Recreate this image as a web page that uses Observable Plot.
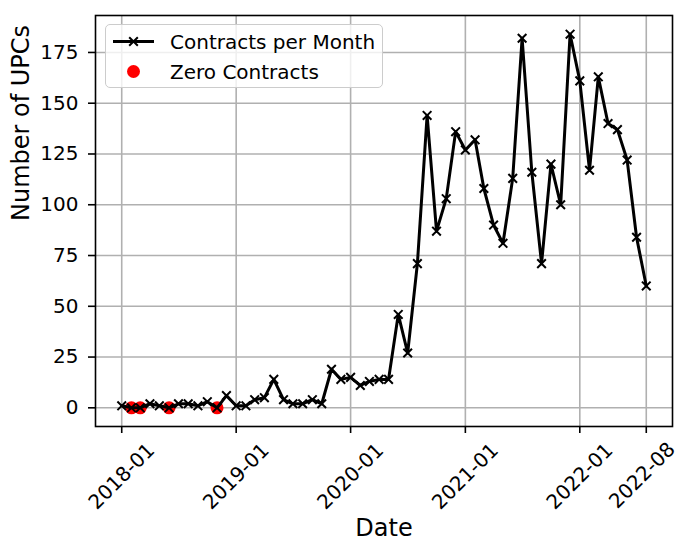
<!DOCTYPE html>
<html><head><meta charset="utf-8">
<script src="https://cdn.jsdelivr.net/npm/d3@7"></script>
<script src="https://cdn.jsdelivr.net/npm/@observablehq/plot@0.6"></script>
<style>
body{margin:0;background:#fff;font-family:"DejaVu Sans",sans-serif;}
#wrap{position:relative;width:680px;height:541px;}
#legend{position:absolute;left:105px;top:24px;width:278px;height:64px;border:1.5px solid #cccccc;border-radius:5px;background:rgba(255,255,255,0.8);box-sizing:border-box;}
#legend svg{position:absolute;left:0;top:0;}
</style></head><body><div id="wrap"></div>
<script>
// ---- data ----
const startMonth = "2018-01";
const contracts = [
  1,0,0,2,1,0,2,2,1,3,0,6,
  1,1,4,5,14,4,2,2,4,2,19,14,
  15,11,13,14,14,46,27,71,144,87,103,136,
  127,132,108,90,81,113,182,116,71,120,100,184,
  161,117,163,140,137,122,84,60
];
const xTickLabels = ["2018-01","2019-01","2020-01","2021-01","2022-01","2022-08"];
const yTicks = [0,25,50,75,100,125,150,175];
const seriesName = "Contracts per Month";
const zeroName = "Zero Contracts";
const xLabel = "Date";
const yLabel = "Number of UPCs";

// ---- build table ----
const parse = d3.utcParse("%Y-%m");
const start = parse(startMonth);
const rows = contracts.map((v, i) => ({date: d3.utcMonth.offset(start, i), value: v}));
const zeros = rows.filter(d => d.value === 0);
const xTicks = xTickLabels.map(parse);
const xTicksMain = xTicks.slice(0, -1);
const xTickLast = xTicks.slice(-1);

const x0 = rows[0].date, x1 = rows[rows.length - 1].date;
const span = x1 - x0;
const xDomain = [new Date(+x0 - span * 0.05), new Date(+x1 + span * 0.05)];
const ymax = d3.max(contracts), ymin = 0;
const yDomain = [ymin - (ymax - ymin) * 0.05, ymax + (ymax - ymin) * 0.05];

const grid = "#b0b0b0";
const fmt = d3.utcFormat("%Y-%m");
const tickText = {x: d => d, text: fmt, frameAnchor: "bottom", dy: 50, rotate: -45, textAnchor: "middle", lineAnchor: "middle", fontSize: 20, fill: "#000"};
const chart = Plot.plot({
  width: 680,
  height: 541,
  marginLeft: 95,
  marginRight: 8,
  marginTop: 15,
  marginBottom: 115,
  style: {fontFamily: "DejaVu Sans", fontSize: "20px", color: "#000", background: "#fff"},
  x: {type: "utc", domain: xDomain},
  y: {domain: yDomain},
  marks: [
    Plot.gridX(xTicks, {stroke: grid, strokeOpacity: 1, strokeWidth: 1.6}),
    Plot.gridY(yTicks, {stroke: grid, strokeOpacity: 1, strokeWidth: 1.6}),
    Plot.dot(zeros, {x: "date", y: "value", r: 6.5, fill: "#ff0000", stroke: "none"}),
    Plot.line(rows, {x: "date", y: "value", stroke: "#000", strokeWidth: 3, curve: "linear"}),
    Plot.dot(rows, {x: "date", y: "value", symbol: "times", r: 4, stroke: "#000", strokeWidth: 2}),
    Plot.axisY(yTicks, {tickSize: 7, tickPadding: 10, strokeWidth: 1.6, fontSize: 20, label: null}),
    Plot.axisX(xTicks, {tickSize: 7, strokeWidth: 1.6, tickFormat: () => "", label: null}),
    Plot.text(xTicksMain, tickText),
    Plot.text(xTickLast, {...tickText, dx: -4, dy: 49}),
    Plot.text([xLabel], {text: d => d, frameAnchor: "bottom", dy: 102, lineAnchor: "middle", fontSize: 24, fill: "#000"}),
    Plot.text([yLabel], {text: d => d, frameAnchor: "left", dx: -74, rotate: -90, lineAnchor: "middle", fontSize: 24, fill: "#000"}),
    Plot.frame({stroke: "#000", strokeWidth: 1.6})
  ]
});
const wrap = document.getElementById("wrap");
wrap.appendChild(chart);

// ---- legend (inside axes, top-left) ----
const leg = document.createElement("div");
leg.id = "legend";
const timesPath = d3.symbol(d3.symbolTimes, Math.PI * 16)();
leg.innerHTML = `<svg width="278" height="64" font-family="DejaVu Sans" font-size="20">
  <line x1="7" x2="48" y1="16.5" y2="16.5" stroke="#000" stroke-width="3"/>
  <path d="${timesPath}" transform="translate(27.5,16.5)" stroke="#000" stroke-width="2" fill="none"/>
  <text x="64" y="16.5" dy="0.35em" fill="#000">${seriesName}</text>
  <circle cx="27.5" cy="46.5" r="6.5" fill="#ff0000"/>
  <text x="64" y="46.5" dy="0.35em" fill="#000">${zeroName}</text>
</svg>`;
wrap.appendChild(leg);
</script>
</body></html>
